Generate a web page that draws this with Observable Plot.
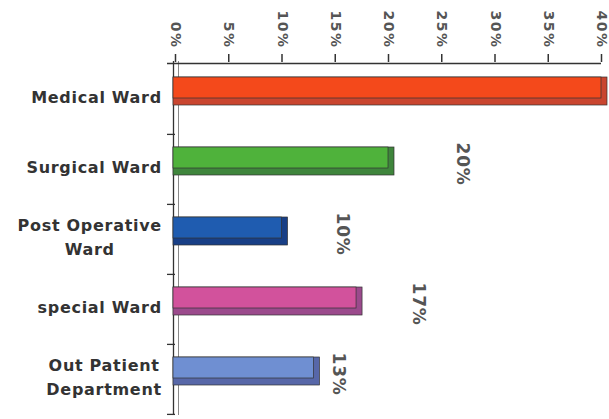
<!DOCTYPE html>
<html><head><meta charset="utf-8">
<script src="https://cdn.jsdelivr.net/npm/d3@7"></script>
<script src="https://cdn.jsdelivr.net/npm/@observablehq/plot@0.6"></script>
<style>
html,body{margin:0;padding:0;background:#fff;overflow:hidden;}
</style></head><body><div id="chart"></div>
<script>
const categories = ["Medical Ward", "Surgical Ward", "Post Operative Ward", "special Ward", "Out Patient Department"];
const labelLines = [["Medical Ward"], ["Surgical Ward"], ["Post Operative", "Ward"], ["special Ward"], ["Out Patient", "Department"]];
const values = [40, 20, 10, 17, 13];
const valueLabels = ["40%", "20%", "10%", "17%", "13%"];
const xTicks = [0, 5, 10, 15, 20, 25, 30, 35, 40];
const frontColors = ["#f4491b", "#4fb23b", "#1f5cb0", "#d2529c", "#6f8fd2"];
const sideColors = ["#c9452f", "#3f853c", "#183f86", "#9b4a8c", "#5767a8"];

const W = 609, H = 419, mT = 61, mB = 4, mL = 175, mR = 8;
const step = (H - mT - mB) / categories.length;
const data = categories.map((c, i) => ({category: c, value: values[i], label: valueLabels[i], lines: labelLines[i], front: frontColors[i], side: sideColors[i]}));

const ctx = document.createElement("canvas").getContext("2d");
ctx.font = "bold 16px 'DejaVu Sans'";
const catLS = 0.7;
const lineWidth = s => ctx.measureText(s).width + catLS * (s.length - 1);

// label nudges (in % units) to the right of each bar end
const labelNudge = {"Medical Ward": 6.5, "Surgical Ward": 6.9, "Post Operative Ward": 5.7, "special Ward": 5.8, "Out Patient Department": 2.3};
const xMax = xTicks[xTicks.length - 1];

const catMarks = data.map(d => {
  const w = Math.max(...d.lines.map(lineWidth));
  return Plot.text([d], {
    y: "category", x: () => 0, text: r => r.lines.join("\n"),
    textAnchor: "middle", dx: -(14 + w / 2), dy: -4, lineHeight: 1.5,
    fontSize: 16, fontWeight: "bold", fontFamily: "DejaVu Sans", fill: "#333"
  });
});

const chart = Plot.plot({
  width: W, height: H, marginTop: mT, marginBottom: mB, marginLeft: mL, marginRight: mR,
  style: {background: "#fff"},
  x: {domain: [0, xMax], axis: null},
  y: {domain: categories, axis: null, paddingInner: 0.7, paddingOuter: 0.35},
  color: {type: "identity"},
  marks: [
    Plot.ruleX([0], {dx: 3, stroke: "#888", strokeWidth: 1}),
    Plot.ruleX([0], {dx: -2, stroke: "#333", strokeWidth: 1.3}),
    Plot.barX(data, {y: "category", x: "value", fill: "side", insetBottom: -7, insetRight: -6, insetLeft: -2, dy: -11, stroke: "#333", strokeWidth: 0.7}),
    Plot.barX(data, {y: "category", x: "value", fill: "front", insetLeft: -2, dy: -11, stroke: "#333", strokeWidth: 0.7}),
    ...catMarks,
    Plot.text(data.filter(d => d.value + labelNudge[d.category] <= xMax), {x: d => d.value + labelNudge[d.category], y: "category", text: "label", rotate: 90, dy: -5,
      fontSize: 17, fontWeight: "bold", fontFamily: "DejaVu Sans", fill: "#555"}),
    Plot.ruleY(data, {y: "category", x1: -0.75, x2: 0, dy: step / 2, stroke: "#333", strokeWidth: 1.3}),
    Plot.ruleY(data.slice(0, 1), {y: "category", x1: -0.75, x2: xMax, dy: -step / 2, stroke: "#333", strokeWidth: 1.5}),
    Plot.axisX({anchor: "top", ticks: xTicks, tickFormat: d => d + "%", tickRotate: 90, tickSize: 8, tickPadding: 5, label: null,
      fontSize: 14, fontWeight: "bold", fontFamily: "DejaVu Sans", color: "#555", stroke: "#333", strokeWidth: 1.5})
  ]
});
d3.select(chart).selectAll("text").attr("letter-spacing", catLS);
d3.select(chart).selectAll('g[aria-label="x-axis tick label"] text').attr("letter-spacing", 1.5);
document.getElementById("chart").appendChild(chart);
</script></body></html>
